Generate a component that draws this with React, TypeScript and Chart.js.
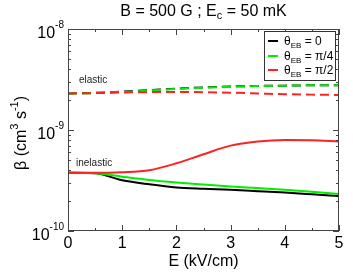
import React, { useEffect, useRef } from 'react';
import { Chart, registerables } from 'chart.js';

Chart.register(...registerables);

const fieldE = [0, 0.5, 1, 1.5, 2, 2.5, 3, 3.5, 4, 4.5, 5];

const elasticTheta0 = [2.30e-9, 2.33e-9, 2.40e-9, 2.48e-9, 2.57e-9, 2.64e-9, 2.70e-9, 2.73e-9, 2.75e-9, 2.77e-9, 2.78e-9];
const elasticThetaPi4 = [2.30e-9, 2.32e-9, 2.38e-9, 2.46e-9, 2.55e-9, 2.62e-9, 2.68e-9, 2.72e-9, 2.75e-9, 2.77e-9, 2.78e-9];
const elasticThetaPi2 = [2.30e-9, 2.32e-9, 2.35e-9, 2.37e-9, 2.38e-9, 2.37e-9, 2.34e-9, 2.30e-9, 2.26e-9, 2.24e-9, 2.22e-9];

const inelasticTheta0 = [3.77e-10, 3.72e-10, 3.18e-10, 2.90e-10, 2.70e-10, 2.62e-10, 2.56e-10, 2.48e-10, 2.40e-10, 2.31e-10, 2.22e-10];
const inelasticThetaPi4 = [3.77e-10, 3.74e-10, 3.45e-10, 3.20e-10, 3.02e-10, 2.88e-10, 2.76e-10, 2.66e-10, 2.56e-10, 2.45e-10, 2.33e-10];
const inelasticThetaPi2 = [3.77e-10, 3.77e-10, 3.82e-10, 4.00e-10, 4.68e-10, 5.75e-10, 7.00e-10, 7.68e-10, 7.95e-10, 7.92e-10, 7.68e-10];

const xTicks = [0, 1, 2, 3, 4, 5];
const yDecades = [-10, -9, -8];

const legendLabels = ['0', 'π/4', 'π/2'];
const seriesColors = ['#000000', '#00ee00', '#ff2020'];

const FONT = '"Liberation Sans", Arial, Helvetica, sans-serif';

type Part = { text: string; size: number; dy: number };

function richWidth(ctx: CanvasRenderingContext2D, parts: Part[]) {
  let w = 0;
  for (const p of parts) {
    ctx.font = `${p.size}px ${FONT}`;
    w += ctx.measureText(p.text).width;
  }
  return w;
}

function drawRich(ctx: CanvasRenderingContext2D, parts: Part[], x: number, y: number, align: 'left' | 'center' | 'right') {
  const w = richWidth(ctx, parts);
  let cx = align === 'left' ? x : align === 'center' ? x - w / 2 : x - w;
  ctx.textAlign = 'left';
  ctx.textBaseline = 'alphabetic';
  for (const p of parts) {
    ctx.font = `${p.size}px ${FONT}`;
    ctx.fillText(p.text, cx, y + p.dy);
    cx += ctx.measureText(p.text).width;
  }
}

const decorPlugin = {
  id: 'decor',
  afterDatasetsDraw(chart: any) {
    const { ctx, chartArea: a, scales } = chart;
    const xs = scales.x;
    const ys = scales.y;
    ctx.save();
    // frame
    ctx.strokeStyle = '#444';
    ctx.lineWidth = 1;
    ctx.strokeRect(Math.round(a.left) + 0.5, Math.round(a.top) + 0.5, Math.round(a.right - a.left) - 1, Math.round(a.bottom - a.top) - 1);

    ctx.beginPath();
    // x ticks
    for (let v = 0; v <= 5.001; v += 0.5) {
      const px = Math.round(xs.getPixelForValue(v)) + 0.5;
      const len = Math.abs(v - Math.round(v)) < 1e-6 ? 6 : 3;
      ctx.moveTo(px, a.bottom);
      ctx.lineTo(px, a.bottom - len);
      ctx.moveTo(px, a.top);
      ctx.lineTo(px, a.top + len);
    }
    // y ticks
    for (let d = -10; d <= -8; d++) {
      for (let m = 1; m <= 9; m++) {
        if (d === -8 && m > 1) break;
        const v = m * Math.pow(10, d);
        const py = Math.round(ys.getPixelForValue(v)) + 0.5;
        const len = m === 1 ? 6 : 3;
        ctx.moveTo(a.left, py);
        ctx.lineTo(a.left + len, py);
        ctx.moveTo(a.right, py);
        ctx.lineTo(a.right - len, py);
      }
    }
    ctx.stroke();

    ctx.fillStyle = '#000';
    // x tick labels
    ctx.font = `16px ${FONT}`;
    ctx.textAlign = 'center';
    ctx.textBaseline = 'alphabetic';
    for (const v of xTicks) {
      ctx.fillText(String(v), xs.getPixelForValue(v), a.bottom + 17);
    }
    // y tick labels
    for (const d of yDecades) {
      const py = ys.getPixelForValue(Math.pow(10, d));
      drawRich(ctx, [
        { text: '10', size: 16, dy: 0 },
        { text: String(d), size: 10, dy: -10 },
      ], a.left - 4, py + 9, 'right');
    }

    // title
    ctx.fillStyle = '#000';
    drawRich(ctx, [
      { text: 'B = 500 G ; E', size: 16, dy: 0 },
      { text: 'c', size: 11, dy: 3 },
      { text: ' = 50 mK', size: 16, dy: 0 },
    ], (a.left + a.right) / 2, 16, 'center');

    // x axis title
    drawRich(ctx, [{ text: 'E (kV/cm)', size: 16, dy: 0 }], (a.left + a.right) / 2, 266, 'center');

    // y axis title
    ctx.save();
    ctx.translate(26, (a.top + a.bottom) / 2 + 3);
    ctx.rotate(-Math.PI / 2);
    drawRich(ctx, [
      { text: 'β (cm', size: 16, dy: 0 },
      { text: '3', size: 11, dy: -8 },
      { text: ' s', size: 16, dy: 0 },
      { text: '-1', size: 11, dy: -8 },
      { text: ')', size: 16, dy: 0 },
    ], 0, 0, 'center');
    ctx.restore();

    // annotations
    ctx.fillStyle = '#222';
    drawRich(ctx, [{ text: 'elastic', size: 10, dy: 0 }], a.left + 11, 83, 'left');
    drawRich(ctx, [{ text: 'inelastic', size: 10, dy: 0 }], a.left + 8, 166, 'left');

    // legend
    const lx = 264, ly = 31, lw = 71, lh = 49;
    ctx.fillStyle = '#fff';
    ctx.fillRect(lx, ly, lw, lh);
    ctx.strokeStyle = '#333';
    ctx.lineWidth = 1;
    ctx.strokeRect(lx + 0.5, ly + 0.5, lw, lh);
    const rows = [41, 56, 70];
    for (let i = 0; i < 3; i++) {
      ctx.strokeStyle = seriesColors[i];
      ctx.lineWidth = 2;
      ctx.beginPath();
      ctx.moveTo(268, rows[i]);
      ctx.lineTo(278, rows[i]);
      ctx.stroke();
      ctx.fillStyle = '#000';
      drawRich(ctx, [
        { text: 'θ', size: 12, dy: 0 },
        { text: 'EB', size: 8, dy: 3 },
        { text: ' = ' + legendLabels[i], size: 12, dy: 0 },
      ], 284, rows[i] + 4, 'left');
    }
    ctx.restore();
  },
};

function makeSet(data: number[], color: string, dashed: boolean) {
  return {
    data: fieldE.map((e, i) => ({ x: e, y: data[i] })),
    borderColor: color,
    borderWidth: 2,
    borderDash: dashed ? [9, 5] : [],
    pointRadius: 0,
    tension: 0.35,
    cubicInterpolationMode: 'monotone' as const,
    fill: false,
  };
}

export default function App() {
  const ref = useRef<HTMLCanvasElement>(null);
  useEffect(() => {
    document.body.style.margin = '0';
    const canvas = ref.current!;
    const chart = new Chart(canvas, {
      type: 'line',
      data: {
        datasets: [
          makeSet(elasticThetaPi2, seriesColors[2], true),
          makeSet(elasticThetaPi4, seriesColors[1], true),
          makeSet(elasticTheta0, seriesColors[0], true),
          makeSet(inelasticThetaPi2, seriesColors[2], false),
          makeSet(inelasticThetaPi4, seriesColors[1], false),
          makeSet(inelasticTheta0, seriesColors[0], false),
        ] as any,
      },
      options: {
        animation: false,
        responsive: false,
        devicePixelRatio: 1,
        layout: { padding: { left: 68, right: 14, top: 29, bottom: 42 } },
        plugins: { legend: { display: false }, tooltip: { enabled: false }, title: { display: false } },
        scales: {
          x: {
            type: 'linear',
            min: 0,
            max: 5,
            grid: { display: false, drawTicks: false },
            border: { display: false },
            ticks: { display: false },
            afterFit: (s: any) => { s.height = 0; },
          },
          y: {
            type: 'logarithmic',
            min: 1e-10,
            max: 1e-8,
            grid: { display: false, drawTicks: false },
            border: { display: false },
            ticks: { display: false },
            afterFit: (s: any) => { s.width = 0; },
          },
        },
      },
      plugins: [decorPlugin],
    });
    return () => chart.destroy();
  }, []);
  return <canvas ref={ref} width={353} height={273} style={{ display: 'block' }} />;
}
